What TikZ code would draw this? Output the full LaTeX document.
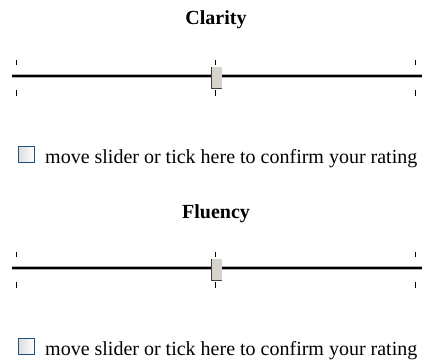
\documentclass[tikz,border=0pt]{standalone}
\usepackage{fontspec}
\setmainfont{Liberation Serif}
\usetikzlibrary{positioning}
\definecolor{thumbface}{RGB}{214,211,204}
\definecolor{thumbedge}{RGB}{64,64,64}
\definecolor{boxedge}{RGB}{28,81,128}
\definecolor{trackedge}{RGB}{175,175,175}

\begin{document}
\begin{tikzpicture}[x=1pt, y=-1pt,
    heading/.style={font=\fontsize{20}{24}\selectfont\bfseries, anchor=base, inner sep=0pt},
    caption/.style={font=\fontsize{20}{24}\selectfont, anchor=base west, inner sep=0pt},
    tickmark/.style={line width=1pt, black},
    trackouter/.style={line width=4.5pt, trackedge},
    trackinner/.style={line width=2.2pt, black},
    thumb/.style={rectangle, fill=thumbface, minimum width=10pt, minimum height=21.6pt, inner sep=0pt},
    thumbline/.style={line width=1.5pt, thumbedge},
    checkbox/.style={rectangle, draw=boxedge, line width=1.3pt, minimum size=16pt, inner sep=0pt, left color=black!14, right color=white}
]
\useasboundingbox (0,0) rectangle (422,360);

% Clarity
\node[heading] (clarity) at (216,24) {Clarity};
\coordinate (clarity-left) at (12,76);
\coordinate (clarity-right) at (422,76);
\draw[trackouter] (clarity-left) -- (clarity-right);
\draw[trackinner] (clarity-left) -- (clarity-right);
\foreach \x in {16.5,215,415} {
    \draw[tickmark] (\x,59.5) -- (\x,65);
    \draw[tickmark] (\x,90) -- (\x,95.5);
}
\node[thumb] (clarity-thumb) at (216.7,77.5) {};
\draw[thumbline] (clarity-thumb.north west) -- (clarity-thumb.south west) -- (clarity-thumb.south east);
\node[checkbox] (clarity-box) at (26.2,154.5) {};
\node[caption] (clarity-text) at (45,163) {move slider or tick here to confirm your rating};

% Fluency
\node[heading] (fluency) at (216,218) {Fluency};
\coordinate (fluency-left) at (12,268);
\coordinate (fluency-right) at (422,268);
\draw[trackouter] (fluency-left) -- (fluency-right);
\draw[trackinner] (fluency-left) -- (fluency-right);
\foreach \x in {16.5,215,415} {
    \draw[tickmark] (\x,251.5) -- (\x,257);
    \draw[tickmark] (\x,282) -- (\x,287.5);
}
\node[thumb] (fluency-thumb) at (216.7,269.5) {};
\draw[thumbline] (fluency-thumb.north west) -- (fluency-thumb.south west) -- (fluency-thumb.south east);
\node[checkbox] (fluency-box) at (26.2,346.5) {};
\node[caption] (fluency-text) at (45,355) {move slider or tick here to confirm your rating};

\end{tikzpicture}
\end{document}
